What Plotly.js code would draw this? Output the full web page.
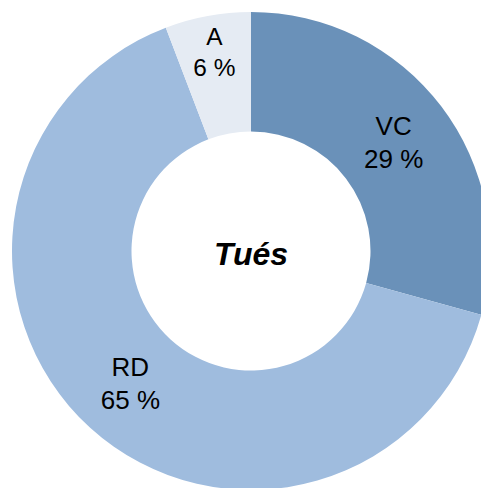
<!DOCTYPE html>
<html>
<head>
<meta charset="utf-8">
<script src="https://cdn.plot.ly/plotly-3.0.1.min.js"></script>
<style>
  html, body { margin: 0; padding: 0; overflow: hidden; background: #fff; }
</style>
</head>
<body>
<div id="donutPlot"></div>
<script>
const categories = ['VC', 'RD', 'A'];
const shares = [29.3, 64.9, 5.8];
const shareLabels = ['29 %', '65 %', '6 %'];
const sliceColors = ['#6a91b9', '#9fbcde', '#e5ebf3'];

const W = 502, H = 502;

var trace = {
    type: 'pie',
    labels: categories,
    values: shares,
    text: shareLabels,
    sort: false,
    direction: 'clockwise',
    rotation: 0,
    hole: 0.5,
    marker: { colors: sliceColors, line: { width: 0 } },
    texttemplate: '%{label}<br>%{text}',
    textposition: 'inside',
    insidetextorientation: 'horizontal',
    textfont: { family: 'Liberation Sans, Arial, sans-serif', size: 26, color: '#000' },
    title: {
        text: 'Tués',
        position: 'middle center',
        font: { family: 'Liberation Sans, Arial, sans-serif', size: 32, color: '#000', weight: 'bold', style: 'italic' }
    },
    domain: { x: [12 / W, 490 / W], y: [12 / H, 490 / H] },
    hoverinfo: 'none'
};

var layout = {
    width: W,
    height: H,
    margin: { l: 0, r: 0, t: 0, b: 0 },
    showlegend: false,
    paper_bgcolor: '#fff'
};

Plotly.newPlot('donutPlot', [trace], layout, { displayModeBar: false, staticPlot: true });
</script>
</body>
</html>
